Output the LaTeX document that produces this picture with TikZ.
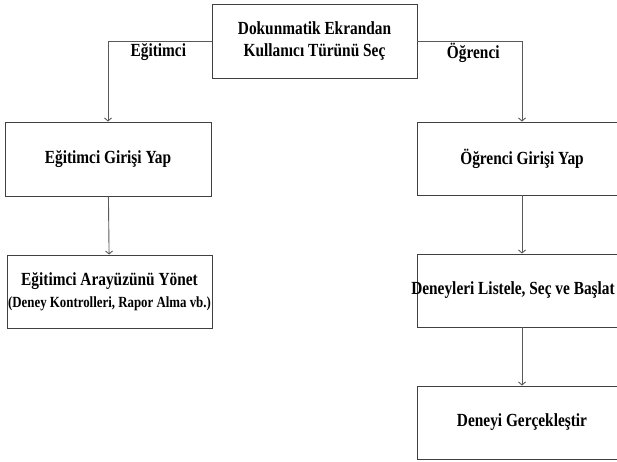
\documentclass[tikz,border=0pt]{standalone}
\usepackage{fontspec}
\setmainfont{Liberation Serif}[FakeStretch=0.83]
\usetikzlibrary{arrows.meta}
\begin{document}
\begin{tikzpicture}[x=1pt,y=-1pt,
    kutu/.style={draw=black!75, line width=0.9pt, minimum width=205pt, minimum height=73pt,
      inner sep=0pt, align=center, font=\bfseries\fontsize{18.5}{22}\selectfont},
    ok/.style={draw=black!65, line width=0.9pt, -{Straight Barb[length=3pt,width=7pt]}},
    etiket/.style={font=\bfseries\fontsize{18.5}{22}\selectfont, inner sep=2pt}]
    \useasboundingbox (0,0) rectangle (617,461);
    \node[kutu, minimum height=74pt] (secim) at (314.5,41) {Dokunmatik Ekrandan\\Kullanıcı Türünü Seç};
    \node[kutu, minimum width=206pt, minimum height=74pt] (egitimciGiris) at (108,159) {Eğitimci Girişi Yap};
    \node[kutu] (egitimciYonet) at (109.5,291.5) {Eğitimci Arayüzünü Yönet\\{\fontsize{15.5}{18}\selectfont (Deney Kontrolleri, Rapor Alma vb.)}};
    \node[kutu, minimum width=210pt] (ogrenciGiris) at (522,158.5) {Öğrenci Girişi Yap};
    \node[kutu, minimum width=210pt] (deneyListe) at (522,290.5) {\hspace*{-18pt}Deneyleri Listele, Seç ve Başlat};
    \node[kutu, minimum width=210pt] (deneyYap) at (522,422.5) {Deneyi Gerçekleştir};
    \draw[ok] (secim.west) -| node[etiket, pos=0.257, below] (egitimciEtiket) {Eğitimci} (egitimciGiris.north);
    \draw[ok] (secim.east) -| node[etiket, pos=0.267, below] (ogrenciEtiket) {Öğrenci} (ogrenciGiris.north);
    \draw[ok] (egitimciGiris) -- (egitimciYonet);
    \draw[ok] (ogrenciGiris) -- (deneyListe);
    \draw[ok] (deneyListe) -- (deneyYap);
\end{tikzpicture}
\end{document}
